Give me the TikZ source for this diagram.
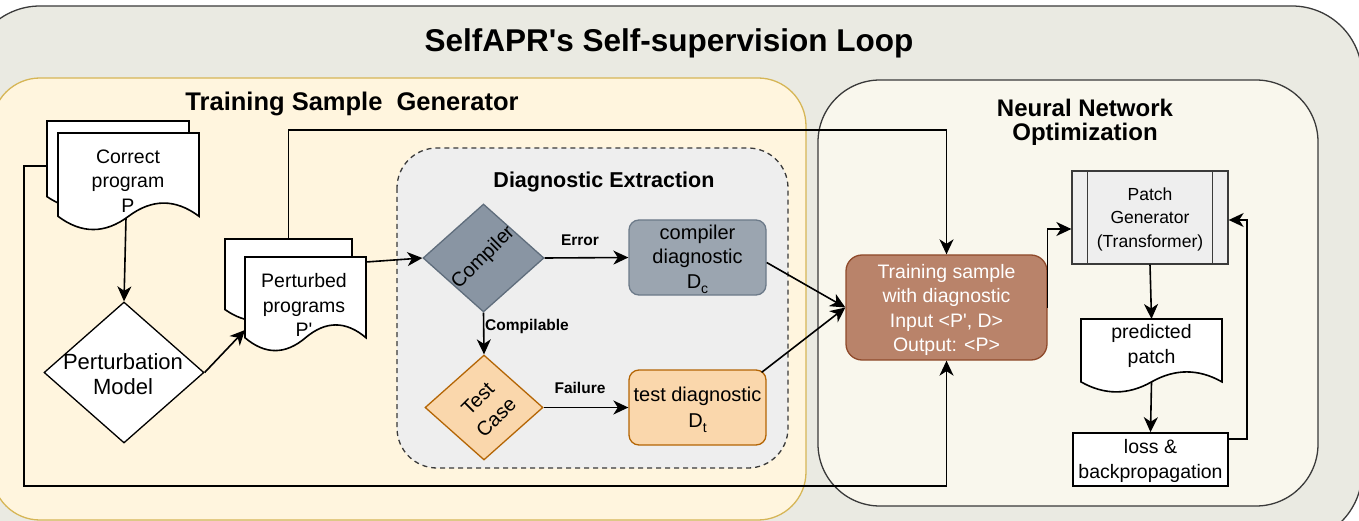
\documentclass[tikz,border=0pt]{standalone}
\usepackage{fontspec}
\newfontfamily\lib{Liberation Sans}
\usetikzlibrary{arrows.meta,shapes.geometric}

\definecolor{outerfill}{HTML}{EAEAE2}
\definecolor{outerline}{HTML}{3A3A3A}
\definecolor{tsgfill}{HTML}{FFF5DE}
\definecolor{tsgline}{HTML}{D6B656}
\definecolor{nnfill}{HTML}{F9F7ED}
\definecolor{defill}{HTML}{EEEEEE}
\definecolor{cmpfill}{HTML}{8995A3}
\definecolor{cmpline}{HTML}{5F6D7C}
\definecolor{cdfill}{HTML}{9BA5B0}
\definecolor{cdline}{HTML}{6C7A89}
\definecolor{orfill}{HTML}{FAD7AC}
\definecolor{orline}{HTML}{B46504}
\definecolor{tsfill}{HTML}{B9836A}
\definecolor{tsline}{HTML}{8F4A2B}

% document shape (drawio style): x y w h style
\newcommand{\docshape}[5]{%
  \draw[#5] (#1,#2) -- ({#1+#3},#2) -- ({#1+#3},{#2+0.85*#4})
    .. controls ({#1+5*#3/6},{#2+0.67*#4}) and ({#1+2*#3/3},{#2+0.67*#4}) .. ({#1+#3/2},{#2+0.85*#4})
    .. controls ({#1+#3/3},{#2+1.03*#4}) and ({#1+#3/6},{#2+1.03*#4}) .. (#1,{#2+0.85*#4}) -- cycle;}

\begin{document}
\begin{tikzpicture}[x=1pt,y=-1pt,
  ntxt/.style={font=\lib\fontsize{19.5}{24.5}\selectfont, align=center, inner sep=0pt},
  ntitle/.style={font=\lib\bfseries\fontsize{31.5}{34}\selectfont, inner sep=0pt},
  nhd/.style={font=\lib\bfseries\fontsize{24}{24}\selectfont, align=center, inner sep=0pt},
  nhd2/.style={font=\lib\bfseries\fontsize{21.5}{24}\selectfont, inner sep=0pt},
  nlbl/.style={font=\lib\bfseries\fontsize{15.5}{17}\selectfont, inner sep=0pt},
  nln/.style={line width=1.6pt, draw=black},
  narr/.style={nln, -{Stealth[length=15pt,width=14pt,inset=4.5pt]}},
  nbox/.style={draw, inner sep=0pt, line width=1.3pt},
  ndia/.style={shape=diamond, draw, inner sep=0pt, line width=1.3pt},
  narea/.style={line width=1.3pt},
  ndoc/.style={draw=black, fill=white, line width=1.6pt},
  nhid/.style={inner sep=0pt, outer sep=0pt, draw=none}
]
\useasboundingbox (0,0) rectangle (1359,521);
\clip (0,0) rectangle (1359,521);

% containers
\draw[narea, fill=outerfill, draw=outerline, rounded corners=70pt] (-30,6) rectangle (1362,542);
\draw[narea, fill=tsgfill, draw=tsgline, rounded corners=48pt] (-8,78) rectangle (806,520);
\draw[narea, fill=nnfill, draw=outerline, rounded corners=62pt] (818,80) rectangle (1318,506);
\draw[narea, fill=defill, draw=outerline, dash pattern=on 5pt off 4pt, rounded corners=40pt] (397,148) rectangle (788,468);

% headings
\node[ntitle] (title) at (669,43) {SelfAPR's Self-supervision Loop};
\node[nhd, font=\lib\bfseries\fontsize{25.5}{26}\selectfont] (tsgh) at (352,104) {Training Sample\ \ Generator};
\node[nhd] (nnh) at (1085,122) {Neural Network\\Optimization};
\node[nhd2] (deh) at (604,182) {Diagnostic Extraction};

% correct program (multi document)
\docshape{47}{121}{142}{89}{ndoc}
\docshape{58}{133}{141}{98}{ndoc}
\node[nhid, minimum width=142pt, minimum height=90pt] (cpb) at (118,166) {};
\node[nhid, minimum width=141pt, minimum height=74pt] (cp) at (126,181) {};
\node[ntxt] (cptext) at (128,181) {Correct\\program\\P};

% perturbation model
\node[ndia, fill=white, minimum width=160pt, minimum height=141pt] (pm) at (124,372.5) {};
\node[ntxt, font=\lib\fontsize{22}{25}\selectfont] (pmtext) at (123,374.5) {Perturbation\\Model};

% perturbed programs (multi document)
\docshape{225}{239}{127}{83}{ndoc}
\docshape{245}{257}{121}{95}{ndoc}
\node[nhid, minimum width=127pt, minimum height=70pt] (ppb) at (288.5,274) {};
\node[nhid, minimum width=121pt, minimum height=81pt] (pp) at (305.5,297.5) {};
\node[ntxt] (pptext) at (304,305) {Perturbed\\programs\\P'};

% diagnostic extraction
\node[ndia, fill=cmpfill, draw=cmpline, minimum width=121pt, minimum height=108pt] (cmp) at (483.5,258) {};
\node[ntxt, font=\lib\fontsize{20}{24}\selectfont, rotate=45] (cmptext) at (483.5,258) {Compiler};
\node[nbox, rounded corners=10pt, fill=cdfill, draw=cdline, minimum width=137pt, minimum height=75pt] (cd) at (697.5,257.5) {};
\node[ntxt, font=\lib\fontsize{20}{24.5}\selectfont] (cdtext) at (697.5,259) {compiler\\diagnostic\\D\raisebox{-5pt}{\fontsize{14}{14}\selectfont c}};
\node[ndia, fill=orfill, draw=orline, minimum width=118pt, minimum height=105pt] (tc) at (484,407.5) {};
\node[ntxt, font=\lib\fontsize{20}{26}\selectfont, rotate=45] (tctext) at (487,408) {Test\\Case};
\node[nbox, rounded corners=10pt, fill=orfill, draw=orline, minimum width=137pt, minimum height=75pt] (td) at (697.5,407.5) {};
\node[ntxt, font=\lib\fontsize{20}{26}\selectfont] (tdtext) at (697.5,410) {test diagnostic\\D\raisebox{-5pt}{\fontsize{14}{14}\selectfont t}};

% training sample
\node[nbox, rounded corners=16pt, fill=tsfill, draw=tsline, minimum width=201pt, minimum height=105pt] (ts) at (946.5,307.5) {};
\node[ntxt, text=white] (tstext) at (946.5,310) {Training sample\\with diagnostic\\Input <P', D>\\Output: <P>};

% neural network optimization
\node[nbox, fill=defill, draw=outerline, minimum width=156pt, minimum height=93pt] (pg) at (1150,217.5) {};
\draw[line width=1.3pt, draw=outerline] ([xshift=16pt]pg.north west) -- ([xshift=16pt]pg.south west);
\draw[line width=1.3pt, draw=outerline] ([xshift=-16pt]pg.north east) -- ([xshift=-16pt]pg.south east);
\node[ntxt, font=\lib\fontsize{17.5}{23.5}\selectfont] (pgtext) at (1150,219) {Patch\\Generator\\(Transformer)};

\docshape{1081}{319}{141}{74}{ndoc}
\node[nhid, minimum width=141pt, minimum height=63pt] (pr) at (1151.5,350.5) {};
\node[ntxt] (prtext) at (1151.5,346) {predicted\\patch};

\node[nbox, fill=white, draw=black, line width=1.6pt, minimum width=155pt, minimum height=53pt] (ls) at (1150.5,459.5) {};
\node[ntxt] (lstext) at (1150.5,461) {loss \&\\backpropagation};

% connectors
\coordinate (c1) at (24,166);
\coordinate (c2) at (24,486);
\coordinate (c3) at (600,130);
\coordinate (fb) at (1247,439);

\draw[narr] (cp.south) -- (pm.north);
\draw[narr] (pm.east) -- ([yshift=8pt]pp.south west);
\draw[narr] ([yshift=-5pt]pp.north east) -- (cmp.west);
\draw[narr] (cmp.east) -- (cd.west);
\draw[narr] (cmp.south) -- (tc.north);
\draw[narr] (tc.east) -- (td.west);
\draw[narr] ([yshift=-5pt]cd.east) -- (ts.west);
\draw[narr] ([xshift=-5pt,yshift=-3pt]td.north east) -- (ts.west);
\draw[narr] (ppb.north) |- (c3) -| (ts.north);
\draw[narr] (cpb.west) -- (c1) -- (c2) -| (ts.south);
\draw[narr] (ts.east) |- ([yshift=-11.5pt]pg.west);
\draw[narr] (pg.south) -- (pr.north);
\draw[narr] (pr.south) -- (ls.north);
\draw[narr] ([yshift=20.5pt]ls.east) -- (fb) |- ([yshift=-2.5pt]pg.east);

% edge labels
\node[nlbl] (err) at (580,240) {Error};
\node[nlbl] (cmpl) at (527,326) {Compilable};
\node[nlbl] (fail) at (580,388) {Failure};
\end{tikzpicture}
\end{document}
